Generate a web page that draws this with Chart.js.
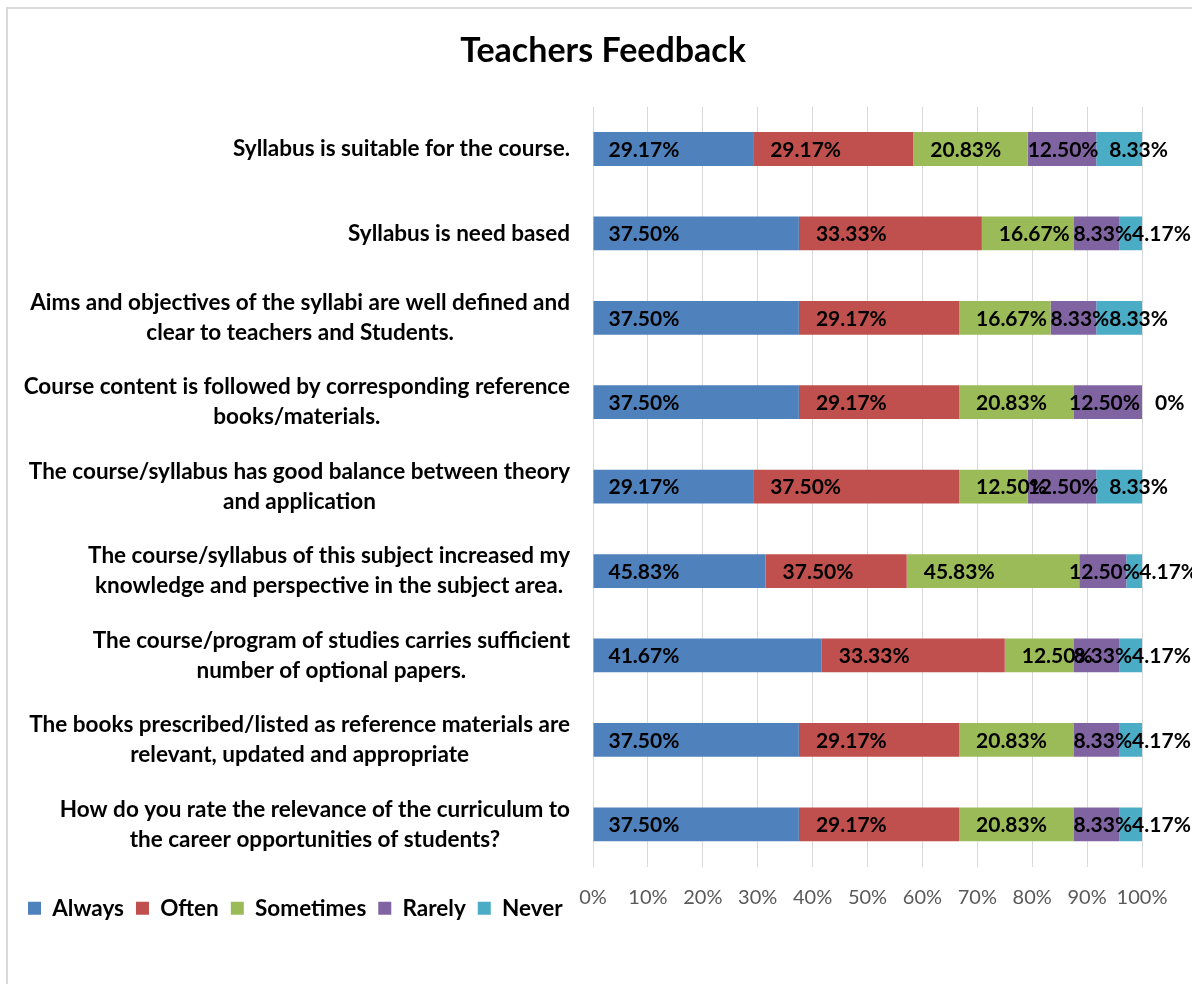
<!DOCTYPE html>
<html>
<head>
<meta charset="utf-8">
<title>Teachers Feedback</title>
<script src="https://cdn.jsdelivr.net/npm/chart.js@4.4.0/dist/chart.umd.min.js"></script>
<style>
  html, body { margin: 0; padding: 0; background: #fff; overflow: hidden; }
  #wrap { position: relative; width: 1192px; height: 984px; }
</style>
</head>
<body>
<div id="wrap"><canvas id="feedback"></canvas></div>
<script>
// questions, top to bottom (wrapped as in the original)
var questions = [
    'Syllabus is suitable for the course.',
    'Syllabus is need based',
    ['Aims and objectives of the syllabi are well defined and', 'clear to teachers and Students.'],
    ['Course content is followed by corresponding reference', 'books/materials.'],
    ['The course/syllabus has good balance between theory', 'and application'],
    ['The course/syllabus of this subject increased my', 'knowledge and perspective in the subject area.'],
    ['The course/program of studies carries sufficient', 'number of optional papers.'],
    ['The books prescribed/listed as reference materials are', 'relevant, updated and appropriate'],
    ['How do you rate the relevance of the curriculum to', 'the career opportunities of students?']
];

var always    = [29.17, 37.50, 37.50, 37.50, 29.17, 45.83, 41.67, 37.50, 37.50];
var often     = [29.17, 33.33, 29.17, 29.17, 37.50, 37.50, 33.33, 29.17, 29.17];
var sometimes = [20.83, 16.67, 16.67, 20.83, 12.50, 45.83, 12.50, 20.83, 20.83];
var rarely    = [12.50,  8.33,  8.33, 12.50, 12.50, 12.50,  8.33,  8.33,  8.33];
var never     = [ 8.33,  4.17,  8.33,  0.00,  8.33,  4.17,  4.17,  4.17,  4.17];

var seriesNames = ['Always', 'Often', 'Sometimes', 'Rarely', 'Never'];
var seriesValues = [always, often, sometimes, rarely, never];
var tickLabels = ['0%', '10%', '20%', '30%', '40%', '50%', '60%', '70%', '80%', '90%', '100%'];

var seriesColors = ['#4F81BD', '#C0504D', '#9BBB59', '#8064A2', '#4BACC6'];
var labelInset = [15, 17, 17, 0, 13];
var fontName = 'Lato';

// 100% stacked: each row is scaled by its own total
function rowTotal(j) {
    var t = 0;
    for (var i = 0; i < seriesValues.length; i++) t += seriesValues[i][j];
    return t;
}

var datasets = seriesNames.map(function(name, i) {
    return {
        label: name,
        data: seriesValues[i].map(function(v, j) { return v / rowTotal(j) * 100; }),
        backgroundColor: seriesColors[i],
        borderWidth: 0,
        barPercentage: 0.4,
        categoryPercentage: 1
    };
});

function pct(v) {
    return v === 0 ? '0%' : v.toFixed(2) + '%';
}

var frame = {
    id: 'frame',
    beforeDraw: function(chart) {
        var ctx = chart.ctx;
        ctx.save();
        ctx.fillStyle = '#fff';
        ctx.fillRect(0, 0, chart.width, chart.height);
        ctx.strokeStyle = '#d9d9d9';
        ctx.lineWidth = 2;
        ctx.beginPath();
        ctx.moveTo(7, chart.height);
        ctx.lineTo(7, 8);
        ctx.lineTo(chart.width, 8);
        ctx.stroke();
        ctx.restore();
    }
};

var questionLabels = {
    id: 'questionLabels',
    afterDraw: function(chart) {
        var ctx = chart.ctx;
        var yScale = chart.scales.y;
        ctx.save();
        ctx.font = 'bold 22.5px ' + fontName;
        ctx.fillStyle = '#000';
        ctx.textAlign = 'center';
        ctx.textBaseline = 'middle';
        questions.forEach(function(q, i) {
            var lines = Array.isArray(q) ? q : [q];
            var maxW = 0;
            lines.forEach(function(l) { maxW = Math.max(maxW, ctx.measureText(l).width); });
            var cx = 570 - maxW / 2;
            var top = yScale.getPixelForTick(i) - (lines.length - 1) * 15;
            lines.forEach(function(l, k) { ctx.fillText(l, cx, top + k * 30); });
        });
        ctx.restore();
    }
};

var valueLabels = {
    id: 'valueLabels',
    afterDatasetsDraw: function(chart) {
        var ctx = chart.ctx;
        var right = chart.chartArea.right;
        ctx.save();
        ctx.font = 'bold 21px ' + fontName;
        ctx.fillStyle = '#000';
        ctx.textAlign = 'left';
        ctx.textBaseline = 'middle';
        seriesValues.forEach(function(vals, i) {
            var meta = chart.getDatasetMeta(i);
            meta.data.forEach(function(bar, j) {
                var text = pct(vals[j]);
                var w = ctx.measureText(text).width;
                var x = Math.min(bar.base, bar.x) + labelInset[i];
                if (i < seriesValues.length - 1) x = Math.min(x, right - w - 2);
                ctx.fillText(text, x, bar.y + 1);
            });
        });
        ctx.restore();
    }
};

// title centred on the whole frame; legend on the axis-label row, at the left
var placeBoxes = {
    id: 'placeBoxes',
    afterLayout: function(chart) {
        var tb = chart.titleBlock;
        tb.left = 14;
        tb.right = chart.width;
        var lg = chart.legend;
        var w = lg.width, h = lg.height;
        lg.left = 16;
        lg.right = 16 + w;
        lg.top = 885;
        lg.bottom = 885 + h;
    }
};

var ctx = document.getElementById('feedback').getContext('2d');
new Chart(ctx, {
    type: 'bar',
    data: {
        labels: questions,
        datasets: datasets
    },
    options: {
        indexAxis: 'y',
        responsive: true,
        maintainAspectRatio: false,
        animation: false,
        layout: {
            padding: { left: 0, right: 50, top: 0, bottom: 11 }
        },
        scales: {
            x: {
                stacked: true,
                min: 0,
                max: 100,
                grid: { color: '#d9d9d9', lineWidth: 1, drawTicks: false },
                border: { display: false },
                ticks: {
                    stepSize: 10,
                    autoSkip: false,
                    maxRotation: 0,
                    padding: 19,
                    color: '#595959',
                    font: { family: fontName, size: 20 },
                    callback: function(v, i) { return tickLabels[i]; }
                }
            },
            y: {
                stacked: true,
                grid: { display: false },
                border: { display: false },
                ticks: { display: false },
                afterFit: function(scale) { scale.width = 593; }
            }
        },
        plugins: {
            title: {
                display: true,
                text: 'Teachers Feedback',
                color: '#000',
                font: { family: fontName, size: 34, weight: 'bold' },
                padding: { top: 31, bottom: 35 }
            },
            legend: {
                position: 'bottom',
                align: 'start',
                labels: {
                    color: '#000',
                    boxWidth: 13,
                    boxHeight: 13,
                    padding: 12,
                    font: { family: fontName, size: 22.5, weight: 'bold' }
                }
            },
            tooltip: { enabled: false }
        }
    },
    plugins: [frame, questionLabels, valueLabels, placeBoxes]
});
</script>
</body>
</html>
